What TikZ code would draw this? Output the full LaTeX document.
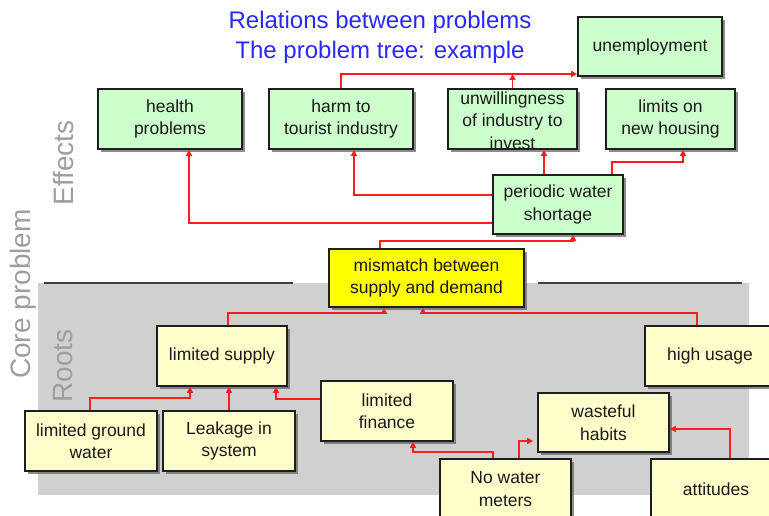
\documentclass[tikz,border=0pt]{standalone}
\usepackage{fontspec}
\setmainfont{Liberation Sans}
\usetikzlibrary{arrows.meta,shadows}
\definecolor{effectfill}{RGB}{204,255,204}
\definecolor{rootfill}{RGB}{255,255,204}
\definecolor{corefill}{RGB}{255,255,0}
\definecolor{rootzone}{RGB}{208,208,208}
\definecolor{linkred}{RGB}{255,30,30}
\definecolor{titleblue}{RGB}{40,40,255}
\definecolor{sidegray}{RGB}{158,158,158}
\definecolor{boxedge}{RGB}{30,30,30}
\definecolor{rulegray}{RGB}{64,64,64}

\begin{document}
\begin{tikzpicture}[x=1pt,y=-1pt,
  boxfont/.style={font=\fontsize{17.5}{22.5}\selectfont, text=black!90},
  box/.style={draw=boxedge, line width=1.6pt, inner sep=0pt, align=center, boxfont,
    drop shadow={shadow xshift=3pt, shadow yshift=-3pt, fill=black!60, opacity=0.75}},
  effect/.style={box, fill=effectfill},
  core/.style={box, fill=corefill},
  root/.style={box, fill=rootfill},
  size/.style 2 args={minimum width=#1, minimum height=#2},
  side/.style={rotate=90, text=sidegray, font=\fontsize{28}{30}\selectfont, inner sep=0pt},
  link/.style={draw=linkred, line width=1.8pt, -{Triangle[length=6pt,width=6pt]}},
]
\useasboundingbox (0,0) rectangle (769,516);

% zone of the roots
\fill[rootzone] (38,283) rectangle (749,495);
\draw[rulegray, line width=1.8pt] (44,283) -- (293,283);
\draw[rulegray, line width=1.8pt] (538,283) -- (742,283);

% headings
\node[align=center, text=titleblue, font=\fontsize{24}{30}\selectfont] (title) at (380,37)
  {Relations between problems\\The problem tree: example};
\node[side] (effectslabel) at (64,163) {Effects};
\node[side] (corelabel) at (23,294) {Core problem};
\node[side] (rootslabel) at (63,366) {Roots};

% effects
\node[effect, size={144}{60}] (health) at (170,119) {health\\problems};
\node[effect, size={144}{60}] (harm) at (341,119) {harm to\\tourist industry};
\node[effect, size={129}{60}] (unwill) at (512.5,119) {};
\node[align=center, boxfont, inner sep=0pt] (unwilltext) at (512.5,120.5)
  {unwillingness\\of industry to\\invest};
\node[effect, size={129}{60}] (housing) at (670.5,119) {limits on\\new housing};
\node[effect, size={144}{59}] (unemp) at (650,46.5) {unemployment};
\node[effect, size={130}{59}] (periodic) at (558,204.5) {periodic water\\shortage};

% core problem
\node[core, size={195}{58}] (mismatch) at (426.5,278) {mismatch between\\supply and demand};

% roots
\node[root, size={130}{60}] (supply) at (222,356) {limited supply};
\node[root, size={132}{60}] (ground) at (91,441) {limited ground\\water};
\node[root, size={132}{60}] (leak) at (229,441) {Leakage in\\system};
\node[root, size={132}{60}] (finance) at (387,411) {limited\\finance};
\node[root, size={130}{60}] (usage) at (710,356) {high usage};
\node[root, size={131}{59}] (habits) at (603.5,422.5) {wasteful\\habits};
\node[root, size={131}{60}] (meters) at (505.5,489) {No water\\meters};
\node[root, size={130}{60}] (attitudes) at (716,489) {attitudes};

% links among the effects
\coordinate (jobline) at ([yshift=-27.5pt]unemp.west);
\draw[link] ([yshift=-18.5pt]periodic.west) -| ([xshift=19pt]health.south);
\draw[link] ([yshift=9.5pt]periodic.west) -| ([xshift=13pt]harm.south);
\draw[link] ([xshift=-14pt]periodic.north) -- ([xshift=-14pt]periodic.north |- unwill.south);
\draw[link] ([xshift=54pt]periodic.north) -- ++(0,-12) -| ([xshift=12.5pt]housing.south);
\draw[link] (harm.north) |- (jobline);
\draw[link] (unwill.north) -- (unwill.north |- jobline);

% core problem to its effect
\draw[link] ([xshift=-46.5pt]mismatch.north) -- ++(0,-7) -| ([xshift=15pt]periodic.south);

% links among the roots
\draw[link] ([xshift=6pt]supply.north) -- ++(0,-12) -| ([xshift=-42.5pt]mismatch.south);
\draw[link] ([xshift=-13pt]usage.north) -- ++(0,-12) -| ([xshift=-3.5pt]mismatch.south);
\draw[link] ([xshift=-1pt]ground.north) -- ++(0,-12) -| ([xshift=-32pt]supply.south);
\draw[link] (leak.north) -- (leak.north |- supply.south);
\draw[link] ([yshift=12pt]finance.west) -| ([xshift=54pt]supply.south);
\draw[link] ([xshift=-12.5pt]meters.north) -- ++(0,-6) -| ([xshift=26pt]finance.south);
\draw[link] ([xshift=13.5pt]meters.north) |- ([xshift=-4pt,yshift=-18.5pt]habits.west);
\draw[link] ([xshift=14pt]attitudes.north) |- ([yshift=-6.5pt]habits.east);
\end{tikzpicture}
\end{document}
